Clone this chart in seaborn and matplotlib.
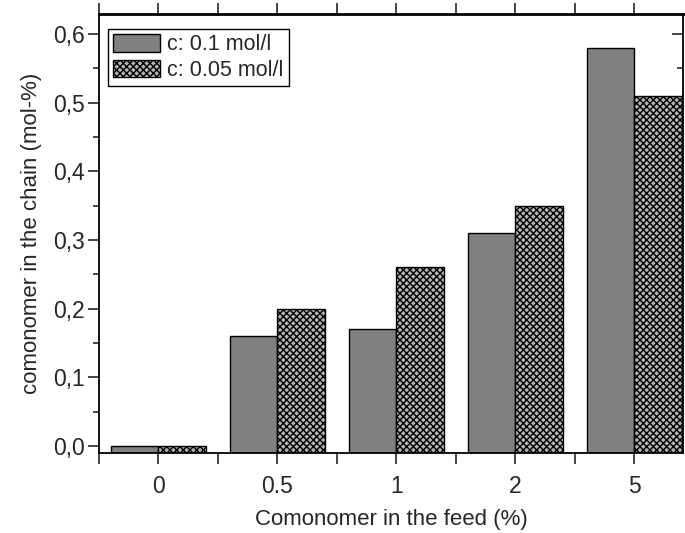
import matplotlib
matplotlib.use("Agg")
import matplotlib.pyplot as plt
import matplotlib.ticker as mticker
import seaborn as sns
import pandas as pd

feed = ["0", "0.5", "1", "2", "5"]
conc_high = [0.0, 0.16, 0.17, 0.31, 0.58]
conc_low = [0.0, 0.20, 0.26, 0.35, 0.51]
series = ["c: 0.1 mol/l", "c: 0.05 mol/l"]

df = pd.DataFrame({
    "feed": feed * 2,
    "value": conc_high + conc_low,
    "series": [series[0]] * len(feed) + [series[1]] * len(feed),
})

sns.set_style("ticks")
plt.rcParams["font.family"] = ["Liberation Sans", "DejaVu Sans"]
plt.rcParams["hatch.linewidth"] = 1.0
plt.rcParams["hatch.color"] = "black"

fig = plt.figure(figsize=(6.85, 5.33), dpi=100)
ax = fig.add_axes([0.1445, 0.150, 0.853, 0.824])

sns.barplot(data=df, x="feed", y="value", hue="series", order=feed,
            hue_order=series, palette=["#808080", "#b4b4b4"],
            width=0.8, errorbar=None, edgecolor="black", linewidth=1.0,
            saturation=1, ax=ax, legend=True)

ymin, ymax = -0.01, 0.629
n = len(feed)
# bars rise from the bottom of the frame; the second series is cross-hatched
for i, p in enumerate(ax.patches[: 2 * n]):
    top = p.get_y() + p.get_height()
    p.set_y(ymin)
    p.set_height(top - ymin)
    if i >= n:
        p.set_hatch("xxxxx")

ax.set_ylim(ymin, ymax)
ax.set_xlim(-0.5, 4.41)

ax.yaxis.set_major_locator(mticker.MultipleLocator(0.1))
ax.yaxis.set_minor_locator(mticker.MultipleLocator(0.05))
ax.yaxis.set_major_formatter(
    mticker.FuncFormatter(lambda v, _: f"{v:.1f}".replace(".", ",")))
ax.xaxis.set_minor_locator(mticker.FixedLocator([k - 0.5 for k in range(n + 1)]))

ax.tick_params(axis="y", which="major", direction="out", length=8, width=1.2,
               labelsize=16.5, right=True, pad=2)
ax.tick_params(axis="y", which="minor", direction="out", length=4, width=1.2,
               right=True)
ax.tick_params(axis="x", which="both", direction="out", length=8, width=1.2,
               labelsize=16.5, top=True, pad=8)
ax.tick_params(axis="both", which="both", labelright=False, labeltop=False)
# ticks on the top and right edges point into the plot
for t in ax.xaxis.get_ticklines(minor=False)[1::2] + ax.xaxis.get_ticklines(minor=True)[1::2]:
    t.set_marker(2)
for t in ax.yaxis.get_ticklines(minor=False)[1::2] + ax.yaxis.get_ticklines(minor=True)[1::2]:
    t.set_marker(0)

for s in ax.spines.values():
    s.set_visible(True)
    s.set_color("black")
    s.set_linewidth(1.3)
ax.spines["top"].set_linewidth(2)

ax.set_xlabel("Comonomer in the feed (%)", fontsize=16, labelpad=8)
ax.set_ylabel("comonomer in the chain (mol-%)", fontsize=16, labelpad=8)

leg = ax.legend(loc="upper left", bbox_to_anchor=(0.0, 0.985), fontsize=15.5,
                frameon=True, fancybox=False, framealpha=1, edgecolor="black",
                borderpad=0.25, handlelength=2.2, handleheight=0.85,
                handletextpad=0.3, labelspacing=0.2, borderaxespad=0.4)
leg.get_frame().set_linewidth(1.0)
leg.legend_handles[1].set_hatch("xxxxx")

fig.savefig("out.png", dpi=100)
